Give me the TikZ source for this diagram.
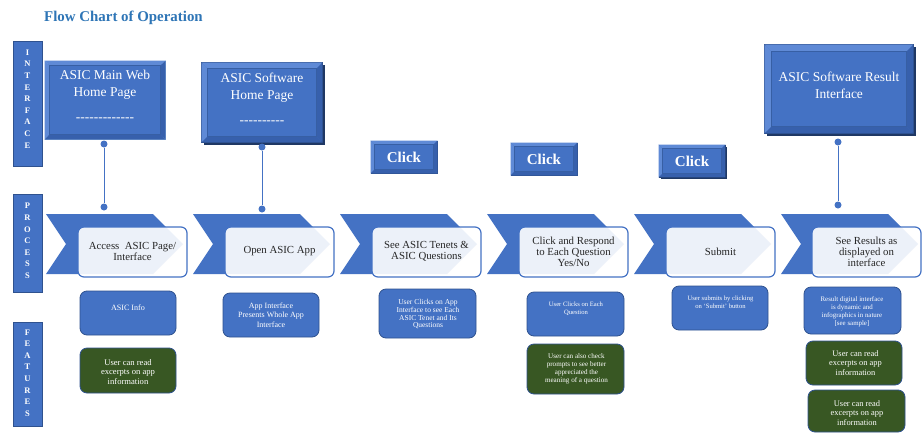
\documentclass[tikz,border=0pt]{standalone}
\usepackage{fontspec}
\setmainfont{Liberation Serif}
\definecolor{bA}{HTML}{4472C4}
\definecolor{bDk}{HTML}{2F528F}
\definecolor{navy}{HTML}{1F3864}
\definecolor{glow}{HTML}{9DC3E6}
\definecolor{bLt}{HTML}{5F8AD6}
\definecolor{bSh}{HTML}{3760AC}
\definecolor{gDk}{HTML}{385723}
\definecolor{ttl}{HTML}{2E75B6}
\definecolor{ptxt}{HTML}{262626}
\newcommand\fsz[2]{\fontsize{#1}{#2}\selectfont}
\newcommand\hy{-\kern0pt}
\newcommand\bevelbox[2]{%
  \fill[bLt] (#1.north west) -- (#1.north east) -- ([shift={(-#2,#2)}]#1.north east) -- ([shift={(#2,#2)}]#1.north west) -- cycle;
  \fill[bLt] (#1.north west) -- ([shift={(#2,#2)}]#1.north west) -- ([shift={(#2,-#2)}]#1.south west) -- (#1.south west) -- cycle;
  \fill[bSh] (#1.south west) -- (#1.south east) -- ([shift={(-#2,-#2)}]#1.south east) -- ([shift={(#2,-#2)}]#1.south west) -- cycle;
  \fill[bSh] (#1.north east) -- ([shift={(-#2,#2)}]#1.north east) -- ([shift={(-#2,-#2)}]#1.south east) -- (#1.south east) -- cycle;
  \draw[bDk!60!bA, line width=0.5] ([shift={(#2,#2)}]#1.north west) rectangle ([shift={(-#2,-#2)}]#1.south east);
}
\begin{document}
\begin{tikzpicture}[x=1pt,y=-1pt,
  bar/.style={draw=bDk, fill=bA, minimum width=29, minimum height=#1, inner sep=0},
  barlbl/.style={text=white, font=\bfseries\fsz{8.5}{11.6}, align=center, inner sep=0},
  ibox/.style={fill=bA, inner sep=0},
  ilbl/.style={text=white, font=\fsz{13.5}{17}, align=center, inner sep=0, anchor=north},
  pbox/.style={draw=bA, line width=1.2, fill=white, fill opacity=0.9, rounded corners=6, minimum width=109, minimum height=50, inner sep=0},
  plbl/.style={text=ptxt, font=\fsz{10.8}{11}, align=center, inner sep=0},
  fbox/.style={draw=bDk, fill=bA, rounded corners=7, line width=0.8, inner sep=0},
  gbox/.style={draw=bDk, fill=gDk, rounded corners=7, line width=0.8, inner sep=0},
  flbl/.style={text=white, align=center, inner sep=0, anchor=north},
  dotn/.style={circle, fill=bA, minimum size=7, inner sep=0},
  conn/.style={draw=bA, line width=1},
  clk/.style={fill=bA, draw=bDk, line width=0.6, minimum width=66, minimum height=32, inner sep=0},
  clbl/.style={text=white, font=\bfseries\fsz{15}{15}, inner sep=0}
]
\useasboundingbox (0,0) rectangle (922,432);
\fill[white] (0,0) rectangle (922,432);

% title
\node[text=ttl, font=\bfseries\fsz{14.9}{16}, inner sep=0] (title) at (123.5,18) {Flow Chart of Operation};

% side bars
\node[bar=125] (barI) at (27.5,103.5) {};
\node[barlbl] (barIt) at (27.5,99) {I\\N\\T\\E\\R\\F\\A\\C\\E};
\node[bar=98] (barP) at (27.5,243) {};
\node[barlbl] (barPt) at (27.5,241) {P\\R\\O\\C\\E\\S\\S};
\node[bar=104] (barF) at (27.5,374) {};
\node[barlbl] (barFt) at (27.5,373) {F\\E\\A\\T\\U\\R\\E\\S};

% interface boxes
\node[ibox, draw=glow, line width=3, minimum width=118, minimum height=76] (ib1) at (105,100) {};
\bevelbox{ib1}{5}
\node[ilbl] (ib1t) at (105,70.3) {ASIC Main Web\\Home Page\\[7.7pt]\hy\hy\hy\hy\hy\hy\hy\hy\hy\hy\hy\hy-};

\fill[navy] (204,65) rectangle (325,145);
\node[ibox, draw=navy, line width=1.2, minimum width=120, minimum height=79] (ib2) at (262,102.5) {};
\bevelbox{ib2}{6}
\node[ilbl] (ib2t) at (262,72.3) {ASIC Software\\Home Page\\[8.7pt]\hy\hy\hy\hy\hy\hy\hy\hy\hy-};

\fill[navy] (767,47) rectangle (916,136);
\node[ibox, draw=navy, line width=1.2, minimum width=148, minimum height=88] (ib3) at (839,89) {};
\bevelbox{ib3}{7}
\node[ilbl] (ib3t) at (839,71.3) {ASIC Software Result\\Interface};

% click buttons
\node[clk] (c1) at (404,157) {};
\bevelbox{c1}{4}
\node[clbl] (c1t) at (404,157) {Click};
\node[clk] (c2) at (544,159) {};
\bevelbox{c2}{4}
\node[clbl] (c2t) at (544,159) {Click};
\fill[navy] (661,147) rectangle (727,179);
\node[clk, draw=navy] (c3) at (692,161) {};
\bevelbox{c3}{4}
\node[clbl] (c3t) at (692,161) {Click};

% connectors
\node[dotn] (d1a) at (104,144) {};
\node[dotn] (d1b) at (104,207) {};
\draw[conn] (d1a) -- (d1b);
\node[dotn] (d2a) at (262,147) {};
\node[dotn] (d2b) at (262,209) {};
\draw[conn] (d2a) -- (d2b);
\node[dotn] (d3a) at (838,142) {};
\node[dotn] (d3b) at (838,205) {};
\draw[conn] (d3a) -- (d3b);

% chevrons
\foreach \L in {46,193,340,487,634,781}{
  \fill[bA] (\L,214) -- (\L+107,214) -- (\L+137,244) -- (\L+107,274) -- (\L,274) -- (\L+20,244) -- cycle;
}

% process boxes
\node[pbox] (p1) at (132.5,252) {};
\node[plbl] (p1t) at (132.5,251.5) {Access\ \ ASIC Page/\\Interface};
\node[pbox] (p2) at (279.5,252) {};
\node[plbl] (p2t) at (279.5,251.5) {Open ASIC App};
\node[pbox] (p3) at (426.5,252) {};
\node[plbl] (p3t) at (426.5,251.5) {See ASIC Tenets \&\\ASIC Questions};
\node[pbox] (p4) at (573.5,252) {};
\node[plbl] (p4t) at (573.5,252) {Click and Respond\\to Each Question\\Yes/No};
\node[pbox] (p5) at (720.5,252) {};
\node[plbl] (p5t) at (720.5,251.5) {Submit};
\node[pbox] (p6) at (866.5,252) {};
\node[plbl] (p6t) at (866.5,251.5) {See Results as\\displayed on\\interface};

% feature boxes
\node[fbox, minimum width=96, minimum height=44] (f1) at (128,313) {};
\node[flbl, font=\fsz{8.1}{9.5}] (f1t) at (128,304.2) {ASIC Info};
\node[gbox, minimum width=96, minimum height=45] (g1) at (128,370.5) {};
\node[flbl, font=\fsz{8.6}{9.7}] (g1t) at (128,359) {User can read\\excerpts on app\\information};

\node[fbox, minimum width=96, minimum height=44] (f2) at (271,315) {};
\node[flbl, font=\fsz{8}{9.5}] (f2t) at (271,302.2) {App Interface\\Presents Whole App\\Interface};

\node[fbox, minimum width=97, minimum height=49] (f3) at (427.5,313.5) {};
\node[flbl, font=\fsz{7.5}{7.6}] (f3t) at (428,299.4) {User Clicks on App\\Interface to see Each\\ASIC Tenet and Its\\Questions};

\node[fbox, minimum width=97, minimum height=44] (f4) at (575.5,314) {};
\node[flbl, font=\fsz{6.6}{8}] (f4t) at (576,301.7) {User Clicks on Each\\Question};
\node[gbox, minimum width=97, minimum height=50] (g4) at (575.5,369) {};
\node[flbl, font=\fsz{7.1}{8}] (g4t) at (576.5,353.5) {User can also check\\prompts to see better\\appreciated the\\meaning of a question};

\node[fbox, minimum width=96, minimum height=44] (f5) at (720,308) {};
\node[flbl, font=\fsz{6.6}{8}] (f5t) at (720.5,295.7) {User submits by clicking\\on `Submit' button};

\node[fbox, minimum width=97, minimum height=47] (f6) at (852.5,310.5) {};
\node[flbl, font=\fsz{6.9}{8}] (f6t) at (852,296.6) {Result digital interface\\is dynamic and\\infographics in nature\\{[see sample]}};
\node[gbox, minimum width=96, minimum height=44] (g6a) at (854,363) {};
\node[flbl, font=\fsz{8.4}{9.7}] (g6at) at (855.5,350) {User can read\\excerpts on app\\information};
\node[gbox, minimum width=97, minimum height=42] (g6b) at (856.5,411) {};
\node[flbl, font=\fsz{8.4}{9.7}] (g6bt) at (857,400) {User can read\\excerpts on app\\information};
\end{tikzpicture}
\end{document}
